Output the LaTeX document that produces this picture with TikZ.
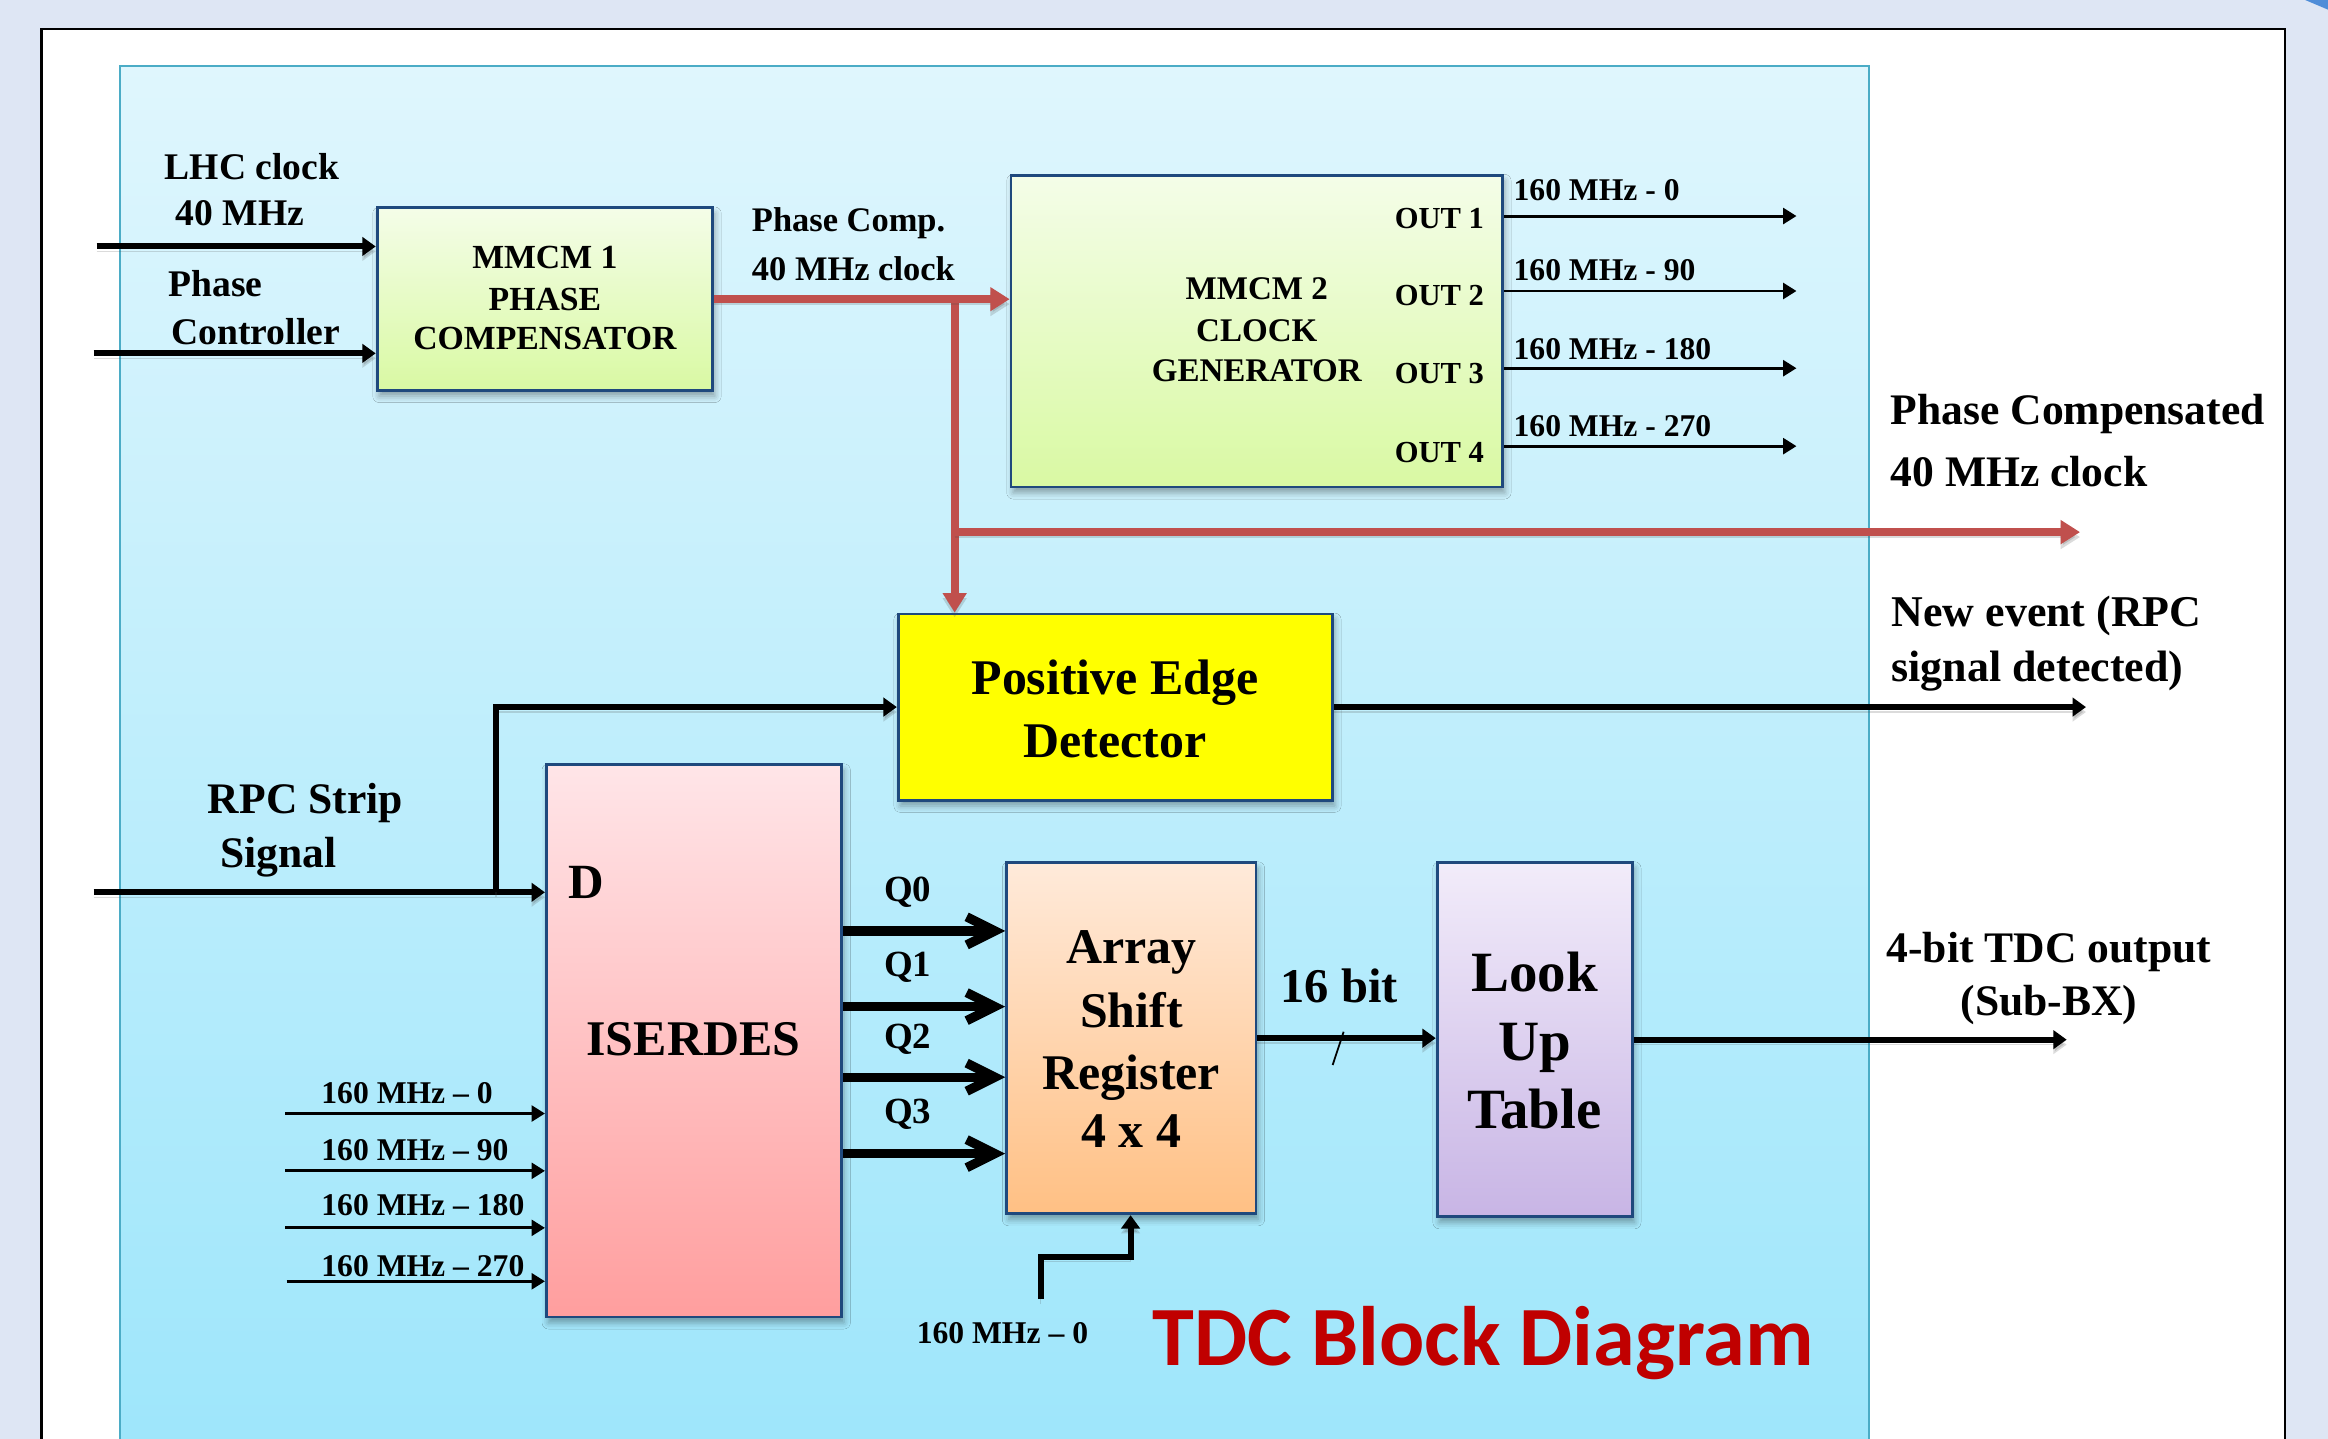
\documentclass[tikz,border=0pt]{standalone}
\usepackage{fontspec}
\setmainfont{Liberation Serif}
\newfontfamily\calib{Carlito}
\usetikzlibrary{arrows.meta,fit,shadows.blur}
\definecolor{pagebg}{RGB}{222,230,244}
\definecolor{paneltop}{RGB}{223,246,253}
\definecolor{panelbot}{RGB}{158,230,251}
\definecolor{panelline}{RGB}{75,172,198}
\definecolor{boxline}{RGB}{31,73,125}
\definecolor{redl}{RGB}{192,80,77}
\definecolor{titlered}{RGB}{192,0,0}
\definecolor{tri}{RGB}{79,141,216}
\definecolor{mtop}{RGB}{244,253,232}
\definecolor{mbot}{RGB}{217,249,163}
\definecolor{itop}{RGB}{255,229,232}
\definecolor{ibot}{RGB}{255,158,158}
\definecolor{atop}{RGB}{255,234,218}
\definecolor{abot}{RGB}{255,192,132}
\definecolor{ltop}{RGB}{242,236,250}
\definecolor{lbot}{RGB}{200,181,229}
\definecolor{pedy}{RGB}{255,255,0}
\newcommand\myfs[2]{\fontsize{#1}{#2}\selectfont\bfseries}
\begin{document}
\begin{tikzpicture}[x=0.4224pt,y=-0.4224pt,
  box/.style={draw=boxline,line width=0.8pt,inner sep=0pt,
    blur shadow={shadow xshift=0.6pt,shadow yshift=-1.6pt,shadow opacity=35,shadow blur steps=4}},
  lsh/.style={preaction={draw=black!70,opacity=0.2,transform canvas={yshift=-1.4pt}}},
  thk/.style={lsh,line width=1.7pt,-{Triangle[length=3.8pt,width=5.2pt]}},
  thn/.style={line width=0.85pt,-{Triangle[length=3.8pt,width=4.5pt]}},
  redarr/.style={lsh,draw=redl,line width=2.3pt,-{Triangle[length=5.5pt,width=6.5pt]}},
  redln/.style={lsh,draw=redl,line width=2.3pt},
  qarr/.style={line width=2.65pt,-{Straight Barb[length=8pt,width=8pt]}},
  lbl/.style={inner sep=0pt,anchor=base west},
  lblr/.style={inner sep=0pt,anchor=base east},
  lblc/.style={inner sep=0pt,anchor=base}]
\useasboundingbox (0,0) rectangle (1568,969);
\clip (0,0) rectangle (1568,969);
% page
\fill[pagebg] (0,0) rectangle (1568,969);
\fill[tri] (1552.6,0) -- (1568,0) -- (1568,6.5) -- cycle;
\draw[line width=0.7pt,fill=white] (28,19.5) rectangle (1539,990);
\draw[draw=panelline,line width=0.6pt,top color=paneltop,bottom color=panelbot] (81,44.5) rectangle (1258.6,975);

% boxes
\node[box,top color=mtop,bottom color=mbot,fit={(254,140)(480,263)}] (m1) {};
\node[box,top color=mtop,bottom color=mbot,fit={(681,118)(1012,328)}] (m2) {};
\node[box,fill=pedy,fit={(605,413.5)(897.5,539)}] (ped) {};
\node[box,top color=itop,bottom color=ibot,fit={(368,515)(567,887)}] (iser) {};
\node[box,top color=atop,bottom color=abot,fit={(678,581)(846,817.5)}] (asr) {};
\node[box,top color=ltop,bottom color=lbot,fit={(968,581)(1099.5,819.5)}] (lut) {};

% box texts
\node[lblc,font=\myfs{9.6}{11.6}] (m1a) at (367,180.6) {MMCM 1};
\node[lblc,font=\myfs{9.6}{11.6}] (m1b) at (367,209) {PHASE};
\node[lblc,font=\myfs{9.6}{11.6}] (m1c) at (367,235.7) {COMPENSATOR};
\node[lblc,font=\myfs{9.4}{11.6}] (m2a) at (846.5,202) {MMCM 2};
\node[lblc,font=\myfs{9.4}{11.6}] (m2b) at (846.5,230) {CLOCK};
\node[lblc,font=\myfs{9.4}{11.6}] (m2c) at (846.5,257) {GENERATOR};
\node[lblc,font=\myfs{14.2}{18}] (peda) at (751,468) {Positive Edge};
\node[lblc,font=\myfs{14.2}{18}] (pedb) at (751,510.5) {Detector};
\node[lblc,font=\myfs{14.2}{17}] (isera) at (467,711) {ISERDES};
\node[lblc,font=\myfs{14.2}{17}] (asra) at (762,649) {Array};
\node[lblc,font=\myfs{14.2}{17}] (asrb) at (762,692) {Shift};
\node[lblc,font=\myfs{14.2}{17}] (asrc) at (762,733.6) {Register};
\node[lblc,font=\myfs{14.2}{17}] (asrd) at (762,773) {4 x 4};
\node[lblc,font=\myfs{16.2}{19}] (luta) at (1033.5,668) {Look};
\node[lblc,font=\myfs{16.2}{19}] (lutb) at (1033.5,714) {Up};
\node[lblc,font=\myfs{16.2}{19}] (lutc) at (1033.5,760) {Table};

% inputs to MMCM1
\coordinate (lhcin) at (65,166);
\coordinate (pcin) at (63,238);
\draw[thk] (lhcin) -- (lhcin -| m1.west);
\draw[thk] (pcin) -- (pcin -| m1.west);
\node[lbl,font=\myfs{10.7}{13}] (lhc1) at (110.5,121) {LHC clock};
\node[lbl,font=\myfs{10.7}{13}] (lhc2) at (118,152) {40 MHz};
\node[lbl,font=\myfs{10.7}{13}] (pc1) at (113,200) {Phase};
\node[lbl,font=\myfs{10.7}{13}] (pc2) at (115,232) {Controller};

% red phase-compensated clock
\coordinate (j1) at (643,201.5);
\coordinate (j2) at (643,358.4);
\coordinate (pcout) at (1401,358.4);
\draw[redln] (j1) -- (j2);
\draw[redarr] (j2) -- (j2 |- ped.north);
\draw[redarr] (j2) -- (pcout);
\draw[redarr] (m1.east) -- (m1.east -| m2.west);
\node[lbl,font=\myfs{9.8}{12}] (pcc1) at (506,156) {Phase Comp.};
\node[lbl,font=\myfs{9.8}{12}] (pcc2) at (506,189) {40 MHz clock};
\node[lbl,font=\myfs{12.4}{15}] (phc1) at (1273,286) {Phase Compensated};
\node[lbl,font=\myfs{12.4}{15}] (phc2) at (1273,328) {40 MHz clock};

% MMCM2 outputs
\node[lblr,font=\myfs{8.7}{10}] (out1) at (1000,154) {OUT 1};
\node[lblr,font=\myfs{8.7}{10}] (out2) at (1000,206) {OUT 2};
\node[lblr,font=\myfs{8.7}{10}] (out3) at (1000,258.6) {OUT 3};
\node[lblr,font=\myfs{8.7}{10}] (out4) at (1000,311.5) {OUT 4};
\coordinate (o1) at (1210,145.5);
\coordinate (o2) at (1210,196);
\coordinate (o3) at (1210,248);
\coordinate (o4) at (1210,300.5);
\draw[thn] (o1 -| m2.east) -- (o1);
\draw[thn] (o2 -| m2.east) -- (o2);
\draw[thn] (o3 -| m2.east) -- (o3);
\draw[thn] (o4 -| m2.east) -- (o4);
\node[lbl,font=\myfs{9}{11}] (f1) at (1019,135) {160 MHz - 0};
\node[lbl,font=\myfs{9}{11}] (f2) at (1019,189) {160 MHz - 90};
\node[lbl,font=\myfs{9}{11}] (f3) at (1019,242) {160 MHz - 180};
\node[lbl,font=\myfs{9}{11}] (f4) at (1019,294) {160 MHz - 270};

% RPC strip signal
\coordinate (rpcin) at (63,601);
\coordinate (br) at (334,601);
\draw[thk] (rpcin) -- (rpcin -| iser.west);
\draw[thk] (br) |- (ped.west);
\node[lbl,font=\myfs{12.4}{15}] (rpc1) at (139.6,547.6) {RPC Strip};
\node[lbl,font=\myfs{12.4}{15}] (rpc2) at (148,584) {Signal};
\node[lbl,font=\myfs{14}{16}] (dlab) at (382.6,605) {D};

% PED output
\coordinate (nevout) at (1405,477);
\draw[thk] (ped.east) -- (ped.east -| nevout);
\node[lbl,font=\myfs{12.5}{15}] (ne1) at (1273.6,422) {New event (RPC};
\node[lbl,font=\myfs{12.5}{15}] (ne2) at (1273.6,459) {signal detected)};

% ISERDES clock inputs
\coordinate (c0) at (192,750);
\coordinate (c1) at (192,788.6);
\coordinate (c2) at (192,827);
\coordinate (c3) at (193,863);
\draw[thn] (c0) -- (c0 -| iser.west);
\draw[thn] (c1) -- (c1 -| iser.west);
\draw[thn] (c2) -- (c2 -| iser.west);
\draw[thn] (c3) -- (c3 -| iser.west);
\node[lbl,font=\myfs{9}{11}] (g0) at (216,743) {160 MHz -- 0};
\node[lbl,font=\myfs{9}{11}] (g1) at (216,781.5) {160 MHz -- 90};
\node[lbl,font=\myfs{9}{11}] (g2) at (216,819) {160 MHz -- 180};
\node[lbl,font=\myfs{9}{11}] (g3) at (216,860) {160 MHz -- 270};

% Q outputs
\coordinate (q0) at (600,627);
\coordinate (q1) at (600,678);
\coordinate (q2) at (600,725.5);
\coordinate (q3) at (600,777);
\draw[qarr] (q0 -| iser.east) -- (q0 -| asr.west);
\draw[qarr] (q1 -| iser.east) -- (q1 -| asr.west);
\draw[qarr] (q2 -| iser.east) -- (q2 -| asr.west);
\draw[qarr] (q3 -| iser.east) -- (q3 -| asr.west);
\node[lbl,font=\myfs{10.5}{12}] (ql0) at (595,607) {Q0};
\node[lbl,font=\myfs{10.5}{12}] (ql1) at (595,658) {Q1};
\node[lbl,font=\myfs{10.5}{12}] (ql2) at (595,706) {Q2};
\node[lbl,font=\myfs{10.5}{12}] (ql3) at (595,757) {Q3};

% 16 bit bus
\draw[thk] (asr.east) -- (asr.east -| lut.west);
\coordinate (s1) at (897.6,717.3);
\coordinate (s2) at (905,694.9);
\draw[line width=0.5pt] (s1) -- (s2);
\node[lbl,font=\myfs{13.8}{16}] (bits) at (862,675) {16 bit};

% LUT output
\coordinate (tdcout) at (1392,699);
\draw[thk] (lut.east) -- (lut.east -| tdcout);
\node[lblc,font=\myfs{12.4}{15}] (to1) at (1380,648) {4-bit TDC output};
\node[lblc,font=\myfs{12.4}{15}] (to2) at (1380,684) {(Sub-BX)};

% clock to shift register
\coordinate (ck) at (701,875);
\coordinate (ckb) at (761.5,846.5);
\draw[thk] (ck) |- (ckb) -- (ckb |- asr.south);
\node[lbl,font=\myfs{9}{11}] (cklab) at (617,905) {160 MHz -- 0};

% title
\node[lbl,font=\calib\bfseries\fontsize{24}{28}\selectfont,text=titlered] (title) at (776,920) {TDC Block Diagram};
\end{tikzpicture}
\end{document}
